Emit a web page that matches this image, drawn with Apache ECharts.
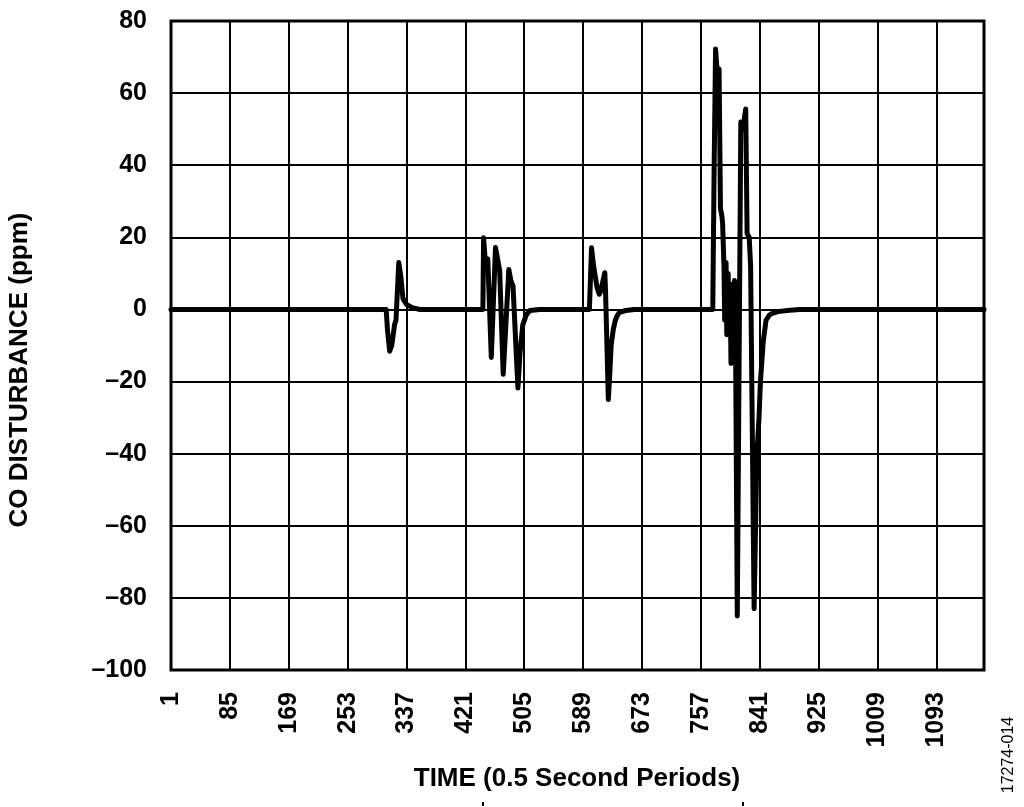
<!DOCTYPE html>
<html>
<head>
<meta charset="utf-8">
<script src="https://cdn.jsdelivr.net/npm/echarts@6/dist/echarts.min.js"></script>
<style>
html,body{margin:0;padding:0;background:#fff;}
#chart{width:1024px;height:807px;}
</style>
</head>
<body>
<div id="chart"></div>
<script>
// Time index (0.5 s periods) and CO disturbance (ppm)
var timeIdx = [1, 308, 310, 313, 316, 320, 322, 326, 329, 332, 337, 345, 356,
  446, 447, 450, 453, 458, 464, 467, 470, 475, 483, 486, 489, 496, 499, 503, 508, 513, 527,
  598, 601, 604, 609, 612, 614, 620, 621, 625, 627, 629, 632, 635, 638, 641, 650, 662,
  774, 776, 778, 781, 783, 785, 787, 788, 790, 791, 793, 794, 796, 797, 799, 800, 802, 803, 805, 806, 809,
  814, 817, 821, 823, 826, 828, 833, 837, 840, 842, 846, 850, 855, 860, 867, 880, 898, 1161];
var coPpm = [0, 0, -6, -11.6, -10, -4.2, -3, 13, 9, 3, 1.4, 0.5, 0,
  0, 19.9, 12, 14, -13.3, 17.2, 14, 10.6, -18, 11.1, 8, 6.5, -21.8, -12, -4.2, -1.5, -0.3, 0,
  0, 17.1, 12, 6, 4.2, 5, 10.2, 5, -25, -18, -10, -5.6, -3, -1.6, -0.8, -0.3, 0,
  0, 40, 72.2, 64, 66.7, 28, 26, 24, 12, -3, 13, -7, 10, -5, 3, -15, 7, -5, 8, 7, -85,
  52, 50, 55.6, 21, 20, 12, -83, -40, -30, -20, -9, -3, -1.5, -1, -0.6, -0.3, 0, 0];
var yTicks = [-100, -80, -60, -40, -20, 0, 20, 40, 60, 80];
var xTickStep = 84;

var seriesData = timeIdx.map(function (t, i) { return [t - 1, coPpm[i]]; });

var chart = echarts.init(document.getElementById('chart'), null, {renderer: 'canvas'});
var fontFam = 'Liberation Sans, Arial, Helvetica, sans-serif';
chart.setOption({
  animation: false,
  backgroundColor: '#fff',
  grid: {left: 171, right: 40, top: 21, bottom: 137, show: true, borderColor: '#000', borderWidth: 3, backgroundColor: 'transparent'},
  xAxis: {
    type: 'value', min: 0, max: 1160, interval: xTickStep,
    axisLine: {show: false},
    axisTick: {show: false},
    splitLine: {show: true, lineStyle: {color: '#000', width: 2}},
    axisLabel: {
      rotate: 90, margin: 22, color: '#000', fontWeight: 'bold', fontSize: 25, fontFamily: fontFam,
      showMaxLabel: false,
      formatter: function (v) { return String(v + 1); }
    }
  },
  yAxis: {
    type: 'value', min: yTicks[0], max: yTicks[yTicks.length - 1], interval: 20,
    axisLine: {show: false},
    axisTick: {show: false},
    splitLine: {show: true, lineStyle: {color: '#000', width: 2}},
    axisLabel: {
      margin: 24, color: '#000', fontWeight: 'bold', fontSize: 25, fontFamily: fontFam,
      formatter: function (v) { return String(v).replace('-', '\u2013'); }
    }
  },
  series: [{
    type: 'line', data: seriesData, showSymbol: false, symbol: 'none',
    lineStyle: {color: '#000', width: 5, join: 'round', cap: 'round'},
    z: 5
  }],
  graphic: [
    {type: 'text', x: 577, y: 779, style: {text: 'TIME (0.5 Second Periods)', fill: '#000', font: 'bold 26px ' + fontFam, textAlign: 'center', textVerticalAlign: 'middle'}},
    {type: 'text', x: 20, y: 370, rotation: Math.PI / 2, style: {text: 'CO DISTURBANCE (ppm)', fill: '#000', font: 'bold 26px ' + fontFam, textAlign: 'center', textVerticalAlign: 'middle'}},
    {type: 'text', x: 1009, y: 755, rotation: Math.PI / 2, style: {text: '17274-014', fill: '#000', font: '16px ' + fontFam, textAlign: 'center', textVerticalAlign: 'middle'}},
    {type: 'rect', shape: {x: 482, y: 802, width: 2, height: 4}, style: {fill: '#000'}},
    {type: 'rect', shape: {x: 742, y: 802, width: 2, height: 4}, style: {fill: '#000'}}
  ]
});
</script>
</body>
</html>
